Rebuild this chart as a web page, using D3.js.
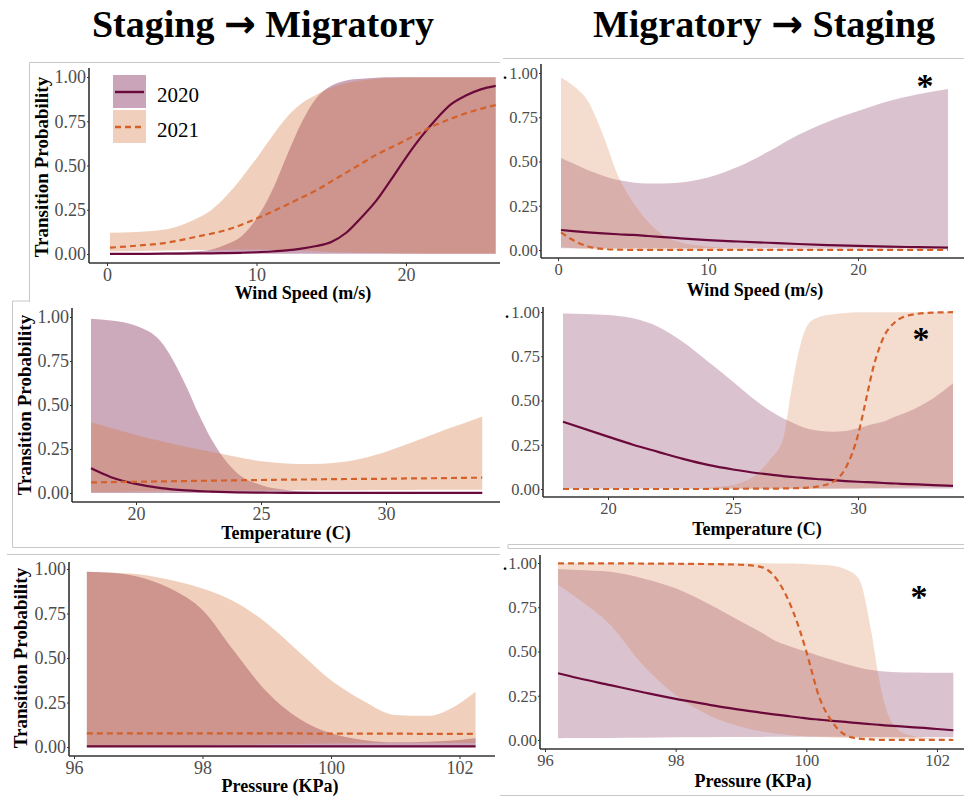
<!DOCTYPE html>
<html>
<head>
<meta charset="utf-8">
<script src="https://cdn.jsdelivr.net/npm/d3@7/dist/d3.min.js"></script>
<style>
body { margin: 0; background: #fff; }
svg { display: block; font-family: "Liberation Serif", "Times New Roman", serif; }
</style>
</head>
<body>
<div id="chart"></div>
<script>
// ---- data ----
var years = ["2020", "2021"];
var yTicks = [0, 0.25, 0.5, 0.75, 1];

// Staging -> Migratory, wind speed
var wind1X    = [0.2, 2, 4, 6, 7, 8, 9, 10, 11, 12, 13, 14, 15, 16, 17, 18, 19, 20, 21, 22, 23, 24, 25, 26];
var wind1Fit0 = [0.001, 0.001, 0.002, 0.003, 0.004, 0.005, 0.007, 0.01, 0.014, 0.02, 0.03, 0.045, 0.068, 0.12, 0.205, 0.3, 0.42, 0.545, 0.66, 0.76, 0.845, 0.895, 0.93, 0.95];
var wind1Lo0  = [0.001, 0.001, 0.001, 0.001, 0.001, 0.001, 0.001, 0.001, 0.001, 0.001, 0.001, 0.001, 0.001, 0.001, 0.001, 0.001, 0.001, 0.001, 0.001, 0.001, 0.001, 0.001, 0.001, 0.001];
var wind1Hi0  = [0.003, 0.004, 0.008, 0.015, 0.025, 0.055, 0.1, 0.2, 0.35, 0.55, 0.74, 0.88, 0.95, 0.98, 0.99, 0.996, 0.998, 0.999, 0.999, 0.999, 0.999, 0.999, 0.999, 0.999];
var wind1Fit1 = [0.036, 0.047, 0.064, 0.098, 0.115, 0.136, 0.165, 0.2, 0.237, 0.277, 0.318, 0.36, 0.41, 0.46, 0.51, 0.56, 0.602, 0.644, 0.688, 0.73, 0.764, 0.795, 0.82, 0.842];
var wind1Lo1  = [0.015, 0.017, 0.02, 0.022, 0.023, 0.024, 0.025, 0.025, 0.024, 0.022, 0.02, 0.016, 0.012, 0.009, 0.007, 0.005, 0.004, 0.003, 0.002, 0.002, 0.002, 0.002, 0.002, 0.002];
var wind1Hi1  = [0.12, 0.125, 0.14, 0.2, 0.25, 0.33, 0.43, 0.54, 0.66, 0.77, 0.85, 0.9, 0.94, 0.965, 0.98, 0.99, 0.995, 0.998, 0.998, 0.998, 0.998, 0.998, 0.998, 0.998];

// Migratory -> Staging, wind speed
var wind2X    = [0.2, 1, 2, 3, 4, 5, 6, 7, 8, 10, 12, 14, 16, 18, 20, 22, 24, 26];
var wind2Fit0 = [0.113, 0.107, 0.1, 0.094, 0.089, 0.085, 0.079, 0.073, 0.067, 0.056, 0.048, 0.041, 0.034, 0.028, 0.023, 0.019, 0.016, 0.013];
var wind2Lo0  = [0.01, 0.01, 0.01, 0.01, 0.01, 0.01, 0.01, 0.01, 0.01, 0.01, 0.01, 0.01, 0.009, 0.009, 0.008, 0.008, 0.008, 0.008];
var wind2Hi0  = [0.52, 0.49, 0.45, 0.42, 0.395, 0.382, 0.376, 0.376, 0.38, 0.41, 0.47, 0.555, 0.65, 0.725, 0.785, 0.84, 0.88, 0.91];
var wind2Fit1 = [0.1, 0.056, 0.02, 0.006, 0.002, 0.001, 0.001, 0.001, 0.001, 0.001, 0.001, 0.001, 0.001, 0.001, 0.001, 0.001, 0.001, 0.001];
var wind2Lo1  = [0.02, 0.01, 0.004, 0.002, 0.001, 0, 0, 0, 0, 0, 0, 0, 0, 0, 0, 0, 0, 0];
var wind2Hi1  = [0.975, 0.93, 0.84, 0.65, 0.42, 0.27, 0.16, 0.085, 0.047, 0.02, 0.01, 0.007, 0.005, 0.004, 0.004, 0.004, 0.004, 0.004];

// Staging -> Migratory, temperature
var temp1X    = [18.2, 19, 20, 21, 22, 22.5, 23, 24, 25, 26, 27, 28, 29, 30, 31, 32, 33, 33.85];
var temp1Fit0 = [0.14, 0.09, 0.052, 0.028, 0.015, 0.011, 0.008, 0.004, 0.002, 0.001, 0.001, 0.001, 0.001, 0.001, 0.001, 0.001, 0.001, 0.001];
var temp1Lo0  = [0, 0, 0, 0, 0, 0, 0, 0, 0, 0, 0, 0, 0, 0, 0, 0, 0, 0];
var temp1Hi0  = [0.99, 0.98, 0.95, 0.86, 0.61, 0.45, 0.31, 0.12, 0.045, 0.017, 0.007, 0.004, 0.003, 0.002, 0.002, 0.002, 0.002, 0.002];
var temp1Fit1 = [0.06, 0.062, 0.064, 0.066, 0.068, 0.069, 0.07, 0.072, 0.074, 0.076, 0.077, 0.079, 0.08, 0.081, 0.083, 0.084, 0.086, 0.087];
var temp1Lo1  = [0.005, 0.006, 0.008, 0.01, 0.011, 0.012, 0.012, 0.013, 0.014, 0.015, 0.015, 0.016, 0.016, 0.017, 0.017, 0.018, 0.018, 0.018];
var temp1Hi1  = [0.4, 0.37, 0.33, 0.295, 0.263, 0.248, 0.235, 0.206, 0.18, 0.168, 0.165, 0.172, 0.195, 0.235, 0.285, 0.34, 0.39, 0.434];

// Migratory -> Staging, temperature
var temp2X    = [18.2, 20, 21, 22, 23, 24, 25, 26, 26.5, 27, 27.3, 27.6, 28, 28.5, 29, 29.5, 30, 30.3, 30.6, 31, 31.5, 32, 33, 33.8];
var temp2Fit0 = [0.38, 0.296, 0.25, 0.21, 0.17, 0.136, 0.11, 0.089, 0.081, 0.073, 0.069, 0.065, 0.06, 0.055, 0.05, 0.045, 0.041, 0.039, 0.037, 0.034, 0.031, 0.028, 0.022, 0.018];
var temp2Lo0  = [0.003, 0.003, 0.003, 0.003, 0.003, 0.003, 0.003, 0.003, 0.003, 0.003, 0.003, 0.003, 0.003, 0.003, 0.003, 0.003, 0.003, 0.003, 0.003, 0.003, 0.003, 0.003, 0.003, 0.003];
var temp2Hi0  = [0.992, 0.983, 0.964, 0.917, 0.83, 0.72, 0.606, 0.49, 0.44, 0.4, 0.38, 0.36, 0.34, 0.328, 0.324, 0.328, 0.343, 0.355, 0.367, 0.38, 0.41, 0.437, 0.512, 0.597];
var temp2Fit1 = [0, 0, 0, 0, 0, 0, 0.001, 0.002, 0.002, 0.003, 0.004, 0.005, 0.008, 0.017, 0.04, 0.117, 0.305, 0.49, 0.68, 0.85, 0.945, 0.98, 0.997, 0.999];
var temp2Lo1  = [0, 0, 0, 0, 0, 0, 0, 0, 0, 0, 0, 0, 0, 0, 0, 0.001, 0.003, 0.004, 0.005, 0.006, 0.008, 0.01, 0.013, 0.015];
var temp2Hi1  = [0.001, 0.001, 0.001, 0.001, 0.002, 0.008, 0.023, 0.09, 0.17, 0.28, 0.53, 0.757, 0.93, 0.974, 0.987, 0.994, 0.998, 0.998, 0.998, 0.998, 0.998, 0.998, 0.998, 0.998];

// Staging -> Migratory, pressure
var pres1X    = [96.2, 96.5, 97, 97.5, 98, 98.5, 99, 99.5, 100, 100.5, 101, 101.5, 102, 102.25];
var pres1Fit0 = [0.004, 0.004, 0.004, 0.004, 0.004, 0.004, 0.004, 0.004, 0.004, 0.004, 0.003, 0.003, 0.003, 0.003];
var pres1Lo0  = [0, 0, 0, 0, 0, 0, 0, 0, 0, 0, 0, 0, 0, 0];
var pres1Hi0  = [0.985, 0.98, 0.957, 0.89, 0.77, 0.535, 0.31, 0.16, 0.077, 0.04, 0.026, 0.03, 0.04, 0.049];
var pres1Fit1 = [0.077, 0.077, 0.077, 0.077, 0.077, 0.076, 0.076, 0.076, 0.075, 0.075, 0.075, 0.074, 0.074, 0.074];
var pres1Lo1  = [0.005, 0.006, 0.007, 0.008, 0.01, 0.012, 0.014, 0.017, 0.019, 0.021, 0.022, 0.022, 0.022, 0.022];
var pres1Hi1  = [0.985, 0.98, 0.97, 0.938, 0.89, 0.816, 0.695, 0.535, 0.375, 0.26, 0.18, 0.175, 0.245, 0.31];

// Migratory -> Staging, pressure
var pres2X    = [96.2, 96.5, 97, 97.5, 98, 98.5, 99, 99.3, 99.5, 99.7, 99.9, 100, 100.2, 100.4, 100.6, 100.8, 101, 101.1, 101.2, 101.4, 101.6, 101.8, 102, 102.25];
var pres2Fit0 = [0.377, 0.35, 0.31, 0.27, 0.232, 0.2, 0.17, 0.155, 0.145, 0.136, 0.127, 0.122, 0.115, 0.108, 0.102, 0.095, 0.089, 0.086, 0.083, 0.078, 0.073, 0.068, 0.062, 0.055];
var pres2Lo0  = [0.01, 0.011, 0.012, 0.013, 0.015, 0.016, 0.017, 0.017, 0.018, 0.018, 0.018, 0.018, 0.018, 0.018, 0.018, 0.017, 0.017, 0.017, 0.017, 0.016, 0.016, 0.016, 0.015, 0.015];
var pres2Hi0  = [0.966, 0.96, 0.95, 0.913, 0.857, 0.77, 0.67, 0.61, 0.565, 0.535, 0.51, 0.5, 0.475, 0.452, 0.43, 0.41, 0.395, 0.39, 0.387, 0.383, 0.381, 0.38, 0.38, 0.38];
var pres2Fit1 = [0.998, 0.998, 0.998, 0.997, 0.996, 0.994, 0.99, 0.978, 0.93, 0.81, 0.62, 0.5, 0.24, 0.1, 0.028, 0.008, 0.003, 0.001, 0.001, 0.001, 0.001, 0.001, 0.001, 0];
var pres2Lo1  = [0.876, 0.8, 0.65, 0.424, 0.254, 0.141, 0.075, 0.05, 0.038, 0.03, 0.023, 0.02, 0.017, 0.014, 0.012, 0.01, 0.009, 0.008, 0.008, 0.007, 0.006, 0.005, 0.004, 0.004];
var pres2Hi1  = [0.999, 0.999, 0.999, 0.999, 0.999, 0.999, 0.998, 0.998, 0.997, 0.997, 0.996, 0.995, 0.99, 0.985, 0.965, 0.913, 0.6, 0.37, 0.2, 0.06, 0.025, 0.013, 0.008, 0.005];

var fill2020 = "#7a1f4f", fill2021 = "#d47940";
var line2020 = "#6b0a3a", line2021 = "#d4602a";

var svg = d3.select("#chart").append("svg")
  .attr("width", 964)
  .attr("height", 797);

// faint screenshot frames
var frames = [
  [[29.5, 302], [29.5, 62.5], [500, 62.5]],
  [[12.5, 301], [29.5, 301]],
  [[12.5, 301], [12.5, 547.5], [500, 547.5]],
  [[7, 554.5], [500, 554.5]],
  [[503, 58.5], [964, 58.5]],
  [[508, 544.5], [964, 544.5]],
  [[508, 544.5], [508, 548.5], [964, 548.5]],
  [[500, 795.5], [964, 795.5]]
];
svg.selectAll(".frame").data(frames).enter().append("path")
  .attr("class", "frame")
  .attr("d", d3.line())
  .attr("fill", "none")
  .attr("stroke", "#c8c8c8")
  .attr("stroke-width", 1);

// column titles
function title(cx, a, b) {
  var t = svg.append("text")
    .attr("x", cx).attr("y", 37)
    .attr("text-anchor", "middle")
    .attr("font-weight", "bold")
    .attr("font-size", 38);
  t.append("tspan").text(a + " ");
  t.append("tspan").attr("font-family", "DejaVu Sans").attr("font-size", 38).text("\u2192");
  t.append("tspan").text(" " + b);
}
title(263, "Staging", "Migratory");
title(764, "Migratory", "Staging");

var panels = [
  { x: wind1X, fit: [wind1Fit0, wind1Fit1], lo: [wind1Lo0, wind1Lo1], hi: [wind1Hi0, wind1Hi1],
    dom: [0, 26], rng: [107, 495.7], yr: [254, 77], ax: 89, ay: 263, axEnd: 500, ayTop: 68,
    xticks: [0, 10, 20], xtitle: "Wind Speed (m/s)", xt: [303, 299], ytitle: [48, 167],
    alpha: [0.4, 0.35], clip: 498, fs: 18 },
  { x: wind2X, fit: [wind2Fit0, wind2Fit1], lo: [wind2Lo0, wind2Lo1], hi: [wind2Hi0, wind2Hi1],
    dom: [0, 26], rng: [558, 948], yr: [250, 73], ax: 541, ay: 258, axEnd: 964, ayTop: 64,
    xticks: [0, 10, 20], xtitle: "Wind Speed (m/s)", xt: [755, 296], dot: [503, 79],
    alpha: [0.27, 0.25], star: [925, 97], fs: 16.5 },
  { x: temp1X, fit: [temp1Fit0, temp1Fit1], lo: [temp1Lo0, temp1Lo1], hi: [temp1Hi0, temp1Hi1],
    dom: [18, 34], rng: [86, 486], yr: [493, 317], ax: 72, ay: 502, axEnd: 500, ayTop: 308,
    xticks: [20, 25, 30], xtitle: "Temperature (C)", xt: [286, 539], ytitle: [31, 405],
    alpha: [0.38, 0.35], fs: 18 },
  { x: temp2X, fit: [temp2Fit0, temp2Fit1], lo: [temp2Lo0, temp2Lo1], hi: [temp2Hi0, temp2Hi1],
    dom: [18, 34], rng: [558, 958], yr: [489, 312], ax: 543, ay: 497, axEnd: 964, ayTop: 307,
    xticks: [20, 25, 30], xtitle: "Temperature (C)", xt: [757, 535], dot: [505, 318],
    alpha: [0.27, 0.25], star: [921, 350], fs: 16.5 },
  { x: pres1X, fit: [pres1Fit0, pres1Fit1], lo: [pres1Lo0, pres1Lo1], hi: [pres1Hi0, pres1Hi1],
    dom: [96, 102], rng: [74, 459.5], yr: [747, 569], ax: 69, ay: 756, axEnd: 495, ayTop: 562,
    xticks: [96, 98, 100, 102], xtitle: "Pressure (KPa)", xt: [280, 792], ytitle: [27, 658],
    alpha: [0.4, 0.35], fs: 18 },
  { x: pres2X, fit: [pres2Fit0, pres2Fit1], lo: [pres2Lo0, pres2Lo1], hi: [pres2Hi0, pres2Hi1],
    dom: [96, 102], rng: [545, 937], yr: [740, 563], ax: 540, ay: 749, axEnd: 964, ayTop: 555,
    xticks: [96, 98, 100, 102], xtitle: "Pressure (KPa)", xt: [753, 787], dot: [503, 570],
    alpha: [0.27, 0.25], star: [919, 608], fs: 16.5 }
];

function drawPanel(p, k) {
  var x = d3.scaleLinear().domain(p.dom).range(p.rng);
  var y = d3.scaleLinear().domain([0, 1]).range(p.yr);
  var g = svg.append("g");
  var plot = g.append("g");
  if (p.clip) {
    svg.append("clipPath").attr("id", "clip" + k)
      .append("rect").attr("x", 0).attr("y", 0).attr("width", p.clip).attr("height", 797);
    plot.attr("clip-path", "url(#clip" + k + ")");
  }

  var fills = [fill2020, fill2021];
  years.forEach(function(yr, s) {
    var area = d3.area()
      .x(function(d, i) { return x(p.x[i]); })
      .y0(function(d, i) { return y(p.lo[s][i]); })
      .y1(function(d, i) { return y(p.hi[s][i]); })
      .curve(d3.curveMonotoneX);
    plot.append("path")
      .attr("d", area(p.x))
      .attr("fill", fills[s])
      .attr("fill-opacity", p.alpha[s]);
  });
  years.forEach(function(yr, s) {
    var line = d3.line()
      .x(function(d, i) { return x(p.x[i]); })
      .y(function(d, i) { return y(p.fit[s][i]); })
      .curve(d3.curveMonotoneX);
    plot.append("path")
      .attr("d", line(p.x))
      .attr("fill", "none")
      .attr("stroke", s == 0 ? line2020 : line2021)
      .attr("stroke-width", 2.2)
      .attr("stroke-dasharray", s == 0 ? null : "6,4");
  });

  // axes
  var xa = g.append("g").attr("transform", "translate(0," + p.ay + ")")
    .call(d3.axisBottom(x).tickValues(p.xticks).tickFormat(d3.format("d"))
      .tickSize(3).tickSizeOuter(0).tickPadding(2));
  var ya = g.append("g").attr("transform", "translate(" + p.ax + ",0)")
    .call(d3.axisLeft(y).tickValues(yTicks).tickFormat(d3.format(".2f"))
      .tickSize(2).tickSizeOuter(0).tickPadding(1));
  [xa, ya].forEach(function(a) {
    a.attr("font-family", null).attr("font-size", null);
    a.select(".domain").remove();
    a.selectAll("line").attr("stroke", "#333");
    a.selectAll("text")
      .style("font-family", "'Liberation Serif', serif")
      .style("font-size", p.fs + "px")
      .attr("fill", "#4d4d4d");
  });
  g.append("line").attr("x1", p.ax).attr("x2", p.axEnd).attr("y1", p.ay).attr("y2", p.ay)
    .attr("stroke", "#333").attr("stroke-width", 1.6);
  g.append("line").attr("x1", p.ax).attr("x2", p.ax).attr("y1", p.ayTop).attr("y2", p.ay)
    .attr("stroke", "#333").attr("stroke-width", 1.6);

  g.append("text")
    .attr("x", p.xt[0]).attr("y", p.xt[1])
    .attr("text-anchor", "middle")
    .attr("font-weight", "bold")
    .attr("font-size", 18)
    .text(p.xtitle);

  if (p.ytitle) {
    g.append("text")
      .attr("transform", "translate(" + p.ytitle[0] + "," + p.ytitle[1] + ") rotate(-90)")
      .attr("text-anchor", "middle")
      .attr("font-weight", "bold")
      .attr("font-size", 19)
      .text("Transition Probability");
  }
  if (p.dot) {
    g.append("text").attr("x", p.dot[0]).attr("y", p.dot[1])
      .attr("font-size", 16).attr("font-weight", "bold").text(".");
  }
  if (p.star) {
    g.append("text").attr("x", p.star[0]).attr("y", p.star[1])
      .attr("text-anchor", "middle")
      .attr("font-weight", "bold")
      .attr("font-size", 34)
      .text("*");
  }
}

panels.forEach(drawPanel);

// legend (top-left panel)
var leg = svg.append("g");
var keyY = [75, 110];
years.forEach(function(yr, s) {
  leg.append("rect")
    .attr("x", 113).attr("y", keyY[s])
    .attr("width", 33).attr("height", 33)
    .attr("fill", s == 0 ? fill2020 : fill2021)
    .attr("fill-opacity", s == 0 ? 0.4 : 0.35);
  leg.append("line")
    .attr("x1", 115).attr("x2", 144)
    .attr("y1", keyY[s] + 17).attr("y2", keyY[s] + 17)
    .attr("stroke", s == 0 ? line2020 : line2021)
    .attr("stroke-width", 2.4)
    .attr("stroke-dasharray", s == 0 ? null : "6,4");
  leg.append("text")
    .attr("x", 157).attr("y", keyY[s] + 27)
    .attr("font-size", 21)
    .text(yr);
});
</script>
</body>
</html>
